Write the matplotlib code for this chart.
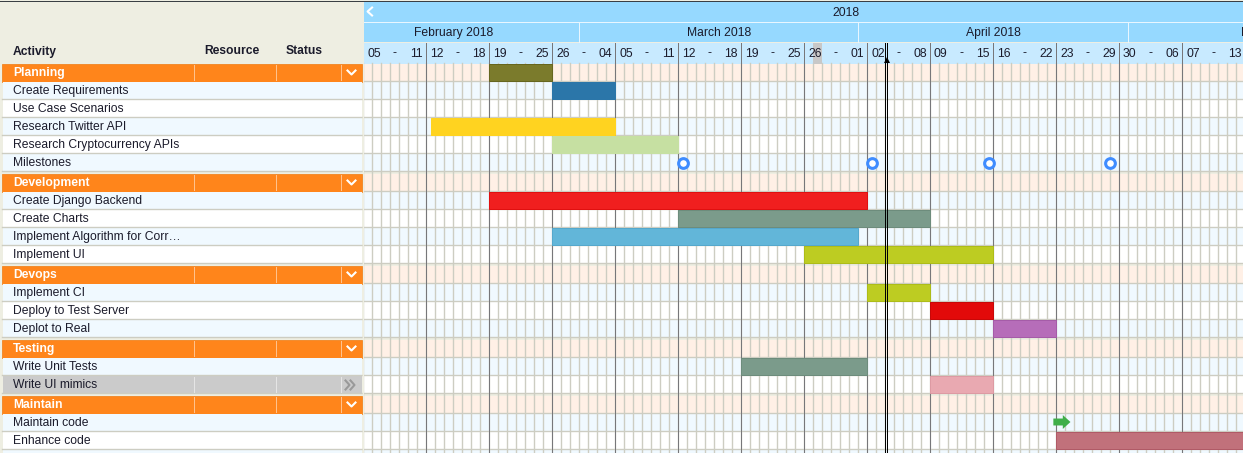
import matplotlib
matplotlib.use("Agg")
import matplotlib.pyplot as plt
import matplotlib.dates as mdates
import pandas as pd

plt.rcParams['font.family'] = ['Liberation Sans', 'DejaVu Sans']

# rows of the table, grouped
groups = ["Planning", "Development", "Devops", "Testing", "Maintain"]
activities = [
    ["Create Requirements", "Use Case Scenarios", "Research Twitter API",
     "Research Cryptocurrency APIs", "Milestones"],
    ["Create Django Backend", "Create Charts", "Implement Algorithm for Corr…", "Implement UI"],
    ["Implement CI", "Deploy to Test Server", "Deplot to Real"],
    ["Write Unit Tests", "Write UI mimics"],
    ["Maintain code", "Enhance code"],
]

# bars
bar_rows = ["Planning", "Create Requirements", "Research Twitter API", "Research Cryptocurrency APIs",
            "Create Django Backend", "Create Charts", "Implement Algorithm for Corr…", "Implement UI",
            "Implement CI", "Deploy to Test Server", "Deplot to Real",
            "Write Unit Tests", "Write UI mimics", "Enhance code"]
bar_start = ["2018-02-19", "2018-02-26", "2018-02-12 12:00", "2018-02-26",
             "2018-02-19", "2018-03-12", "2018-02-26", "2018-03-26",
             "2018-04-02", "2018-04-09", "2018-04-16",
             "2018-03-19", "2018-04-09", "2018-04-23"]
bar_end = ["2018-02-26", "2018-03-05", "2018-03-05", "2018-03-12",
           "2018-04-02", "2018-04-09", "2018-04-01", "2018-04-16",
           "2018-04-09", "2018-04-16", "2018-04-23",
           "2018-04-02", "2018-04-16", "2018-06-01"]
bar_colors = ["#7b7b2c", "#2b76a9", "#ffd320", "#c6e0a2",
              "#f01f1f", "#7b9b8b", "#62b6d9", "#bdcc22",
              "#bdcc22", "#e20a0a", "#b66db9",
              "#7b9b8b", "#e9a9b1", "#c1717b"]
bar_edges = ["#66661f", "#2b76a9", "#ffd320", "#c6e0a2",
             "#e01010", "#6d8c7c", "#55a8cc", "#adbc18",
             "#adbc18", "#c80808", "#a55ca8",
             "#6d8c7c", "#dd9aa3", "#b05a66"]

milestones = ["2018-03-12 12:00", "2018-04-02 12:00", "2018-04-15 12:00", "2018-04-29"]
maintain_start = "2018-04-23"
today = "2018-04-04"
highlight_day = "2018-03-27"

first_week = "2018-02-05"
week_count = 14
months = ["2018-02-01", "2018-03-01", "2018-04-01", "2018-05-01", "2018-06-01"]


def num(d):
    return mdates.date2num(pd.Timestamp(d))


W, H = 1243, 453
LW = 0.72  # one pixel at dpi 100
GRID_LW = 1.0
fig = plt.figure(figsize=(W / 100, H / 100), dpi=100, facecolor="#eeeee2")

# left table in pixel coordinates
left = fig.add_axes([0, 0, 364 / W, 1])
left.set_xlim(0, 364)
left.set_ylim(H, 0)
left.axis("off")

# gantt part, x is dates at 9 px a day
day0 = num(first_week)
gantt = fig.add_axes([363.5 / W, 0, 1 - 363.5 / W, 1])
gantt.set_xlim(day0, day0 + (W - 363.5) / 9)
gantt.set_ylim(H, 0)
gantt.axis("off")
gantt.patch.set_visible(False)

TEXT = "#1b1b2b"
GRID = "#cdcdc2"

# lay the rows out from the top
row_y = {}
rows = []
y = 63.5
for g, acts in zip(groups, activities):
    rows.append((g, y, "group"))
    row_y[g] = y
    y += 18
    for i, a in enumerate(acts):
        rows.append((a, y, "odd" if i % 2 == 0 else "even"))
        row_y[a] = y
        y += 18
    y += 2
rows.append(("", y - 2, "odd"))
grid_bottom = H

row_bg = {"group": "#fff0e6", "odd": "#f0f9ff", "even": "#ffffff"}
x_end = day0 + (W - 363.5) / 9
for name, ry, kind in rows:
    gantt.barh(ry + 9, x_end - day0, left=day0, height=18, color=row_bg[kind], linewidth=0, zorder=1)
    gantt.plot([day0, x_end], [ry + 18, ry + 18], color=GRID, lw=GRID_LW, zorder=2, snap=False)

    if kind == "group":
        left.barh(ry + 9, 360, left=2, height=18, color="#ff851b", edgecolor="#f07a10", linewidth=0.5, zorder=1)
        left.text(13, ry + 9.5, name, color="white", fontsize=8.7, fontweight="bold", va="center", zorder=3)
        for px in [193.5, 275.5, 340.5]:
            left.plot([px, px], [ry + 1, ry + 17], color="white", lw=LW, ls=(0, (1, 1)), zorder=2)
        left.plot([347.5, 351.5, 355.5], [ry + 7, ry + 11, ry + 7], color="white", lw=1.5, zorder=3)
    else:
        bg = row_bg[kind]
        if name == "Write UI mimics":
            bg = "#cbcbcb"
        left.barh(ry + 9, 359.5, left=2.5, height=18, color=bg, linewidth=0, zorder=1)
        left.plot([2.5, 362], [ry + 18, ry + 18], color=GRID, lw=GRID_LW, zorder=2, snap=False)
        left.text(13, ry + 9.5, name, color=TEXT, fontsize=8.7, va="center", zorder=3)
        if name == "Write UI mimics":
            for px in [193.5, 275.5, 340.5]:
                left.plot([px, px], [ry + 1, ry + 17], color="white", lw=LW, ls=(0, (1, 1)), zorder=2)
            for px in [345.5, 350.5]:
                left.plot([px, px + 4, px], [ry + 5, ry + 9.5, ry + 14], color="#999999", lw=1.5, zorder=3)

for px, label in zip([13, 204, 286], ["Activity", "Resource", "Status"]):
    left.text(px, 51.5, label, color=TEXT, fontsize=8.7, fontweight="bold", va="center")

# header bands
gantt.barh(11.5, x_end - day0, left=day0, height=21, color="#96d9ff", linewidth=0, zorder=1)
gantt.barh(32, x_end - day0, left=day0, height=20, color="#96d9ff", linewidth=0, zorder=1)
gantt.barh(53, x_end - day0, left=day0, height=21, color="#c8eaff", linewidth=0, zorder=1)
gantt.plot([day0, x_end], [21.5, 21.5], color="#e8f6ff", lw=LW, zorder=2)
gantt.plot([day0 + 0.95, day0 + 0.45, day0 + 0.95], [7.5, 11.5, 15.5], color="white", lw=1.5, zorder=3)
gantt.text(day0 + 53.6, 12.5, "2018", color=TEXT, fontsize=8.7, ha="center", va="center", zorder=3)

for a, b in zip(months[:-1], months[1:]):
    mid = (num(a) + num(b)) / 2
    gantt.text(mid, 33, pd.Timestamp(a).strftime("%B %Y"), color=TEXT, fontsize=8.7,
               ha="center", va="center", zorder=3)
    if num(a) > day0:
        gantt.plot([num(a), num(a)], [22, 42], color="#e8f6ff", lw=LW, zorder=2)

# day columns and week lines
day_lines = pd.date_range(first_week, periods=week_count * 7 + 1, freq="D")
for d in day_lines:
    gantt.plot([num(d), num(d)], [63.5, grid_bottom], color=GRID, lw=GRID_LW, zorder=2, snap=False)
weeks = pd.date_range(first_week, periods=week_count, freq="7D")
for w in weeks:
    n = num(w)
    if n > day0:
        gantt.plot([n, n], [43, grid_bottom], color="#77777a", lw=LW, zorder=2.5)
    gantt.text(n + 1.15, 54, w.strftime("%d"), color=TEXT, fontsize=8.7, ha="center", va="center", zorder=4)
    gantt.text(n + 3.5, 53.5, "-", color=TEXT, fontsize=8.7, ha="center", va="center", zorder=4)
    gantt.text(n + 5.85, 54, (w + pd.Timedelta(days=6)).strftime("%d"), color=TEXT, fontsize=8.7,
               ha="center", va="center", zorder=4)
gantt.barh(53, 1, left=num(highlight_day), height=21, color="#c8c8c8", linewidth=0, zorder=3)

# bars
for name, s, e, c, ec in zip(bar_rows, bar_start, bar_end, bar_colors, bar_edges):
    gantt.barh(row_y[name] + 8.7, num(e) - num(s), left=num(s), height=17, color=c,
               edgecolor=ec, linewidth=LW, zorder=5)

# milestones
gantt.plot([num(m) for m in milestones], [row_y["Milestones"] + 9] * len(milestones), "o", ms=7, mfc="#ffffff",
           mec="#3f8cff", mew=2.2, ls="none", zorder=6)

# maintain arrow
gantt.annotate("", xy=(num(maintain_start) + 1.55, row_y["Maintain code"] + 8.5),
               xytext=(num(maintain_start) - 0.35, row_y["Maintain code"] + 8.5),
               arrowprops=dict(arrowstyle="simple,head_width=1.0,head_length=0.55,tail_width=0.5",
                               color="#3fae49", lw=0, shrinkA=0, shrinkB=0), zorder=6)

# today marker, two black lines
t = num(today)
gantt.plot([t - 0.1, t - 0.1], [43, grid_bottom], color="black", lw=LW, zorder=7)
gantt.plot([t + 0.12, t + 0.12], [43, grid_bottom], color="black", lw=LW, zorder=7)
gantt.plot([t + 0.16], [60], marker="^", color="black", ms=5, mew=0, zorder=7)

# dark line on the very top of the page
left.plot([0, 364], [0.5, 0.5], color="#3a3f44", lw=LW, zorder=8)
gantt.plot([day0, x_end], [0.5, 0.5], color="#3a3f44", lw=LW, zorder=8)

fig.savefig("out.png", dpi=100, facecolor=fig.get_facecolor())
